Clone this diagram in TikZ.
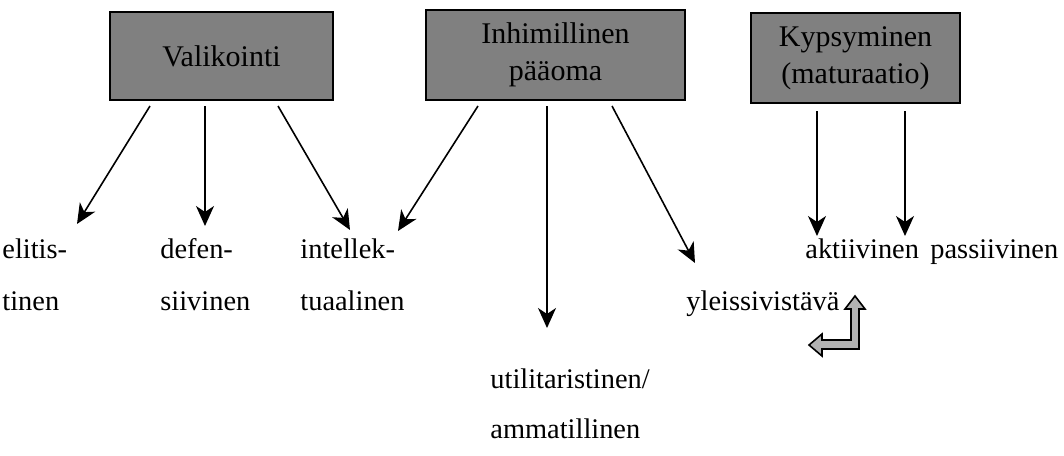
\documentclass[tikz,border=0pt]{standalone}
\usepackage{fontspec}
\setmainfont{Liberation Serif}
\usepackage{tikz}
\usetikzlibrary{arrows.meta}

\tikzset{
  laatikko/.style={draw, line width=1pt, fill=black!50, align=center, inner sep=0pt,
    font=\fontsize{15}{18.5}\selectfont},
  nuoli/.style={-{Stealth[length=10pt,width=9pt,inset=3pt]}, line width=0.8pt},
  sana/.style={anchor=base west, inner sep=0pt, font=\fontsize{14.2}{18}\selectfont},
  koukku/.style={draw, line width=0.8pt, fill=black!30}
}

\begin{document}
\begin{tikzpicture}[x=0.5pt,y=-0.5pt]
		\useasboundingbox (0,0) rectangle (1064,455);
		\node[laatikko, minimum width=111.5pt, minimum height=44pt] (valikointi) at (221.5,56) {Valikointi};
		\node[laatikko, minimum width=129.5pt, minimum height=45pt] (paaoma) at (555.5,55) {Inhimillinen\\pääoma};
		\node[laatikko, minimum width=104.5pt, minimum height=45pt] (kypsyminen) at (855.5,58) {Kypsyminen\\(maturaatio)};
		
		\node[sana] (elitis) at (2,258) {elitis-};
		\node[sana] (tinen) at (2,310) {tinen};
		\node[sana] (defen) at (160,258) {defen-};
		\node[sana] (siivinen) at (160,310) {siivinen};
		\node[sana] (intellek) at (300,258) {intellek-};
		\node[sana] (tuaalinen) at (300,310) {tuaalinen};
		\node[sana] (utilitar) at (490,388) {utilitaristinen/};
		\node[sana] (ammatill) at (490,438) {ammatillinen};
		\node[sana] (yleis) at (686,310) {yleissivistävä};
		\node[sana] (aktiiv) at (805,258) {aktiivinen};
		\node[sana] (passiiv) at (930,258) {passiivinen};
		
		\coordinate (V1) at (150,106);
		\coordinate (V2) at (205,106);
		\coordinate (V3) at (278,106);
		\coordinate (P1) at (478,106);
		\coordinate (P2) at (547,106);
		\coordinate (P3) at (612,106);
		\coordinate (K1) at (817,111);
		\coordinate (K2) at (905,111);
		\coordinate (E1) at (77,224);
		\coordinate (E2) at (205,226);
		\coordinate (E3) at (350,230);
		\coordinate (E4) at (398,231);
		\coordinate (E5) at (547,328);
		\coordinate (E6) at (695,263);
		\coordinate (E7) at (817,236);
		\coordinate (E8) at (905,236);
		\draw[nuoli] (V1)--(E1);
		\draw[nuoli] (V2)--(E2);
		\draw[nuoli] (V3)--(E3);
		\draw[nuoli] (P1)--(E4);
		\draw[nuoli] (P2)--(E5);
		\draw[nuoli] (P3)--(E6);
		\draw[nuoli] (K1)--(E7);
		\draw[nuoli] (K2)--(E8);
		
		%\draw[nuoli] (yleis.east) -- (aktiiv.west);
		\draw[koukku] (809,345) -- (822,334) -- (822,340) -- (851,340) -- (851,309)
			-- (845,309) -- (855,296) -- (865,309) -- (859,309) -- (859,349)
			-- (822,349) -- (822,356) -- cycle;
\end{tikzpicture}
\end{document}
